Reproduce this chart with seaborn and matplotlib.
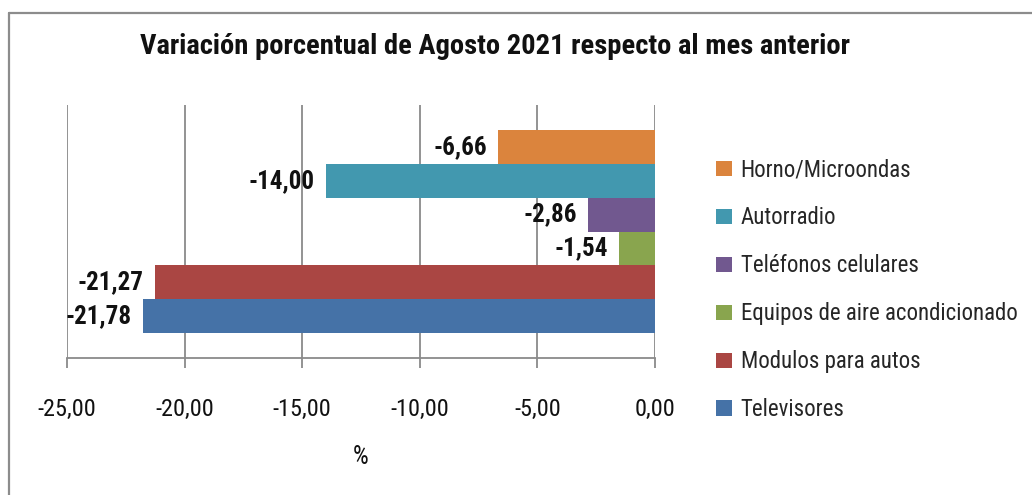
import matplotlib
matplotlib.use("Agg")
import matplotlib.pyplot as plt
import seaborn as sns
import pandas as pd
from matplotlib.lines import Line2D

categories = ["Horno/Microondas", "Autorradio", "Teléfonos celulares",
              "Equipos de aire acondicionado", "Modulos para autos", "Televisores"]
values = [-6.66, -14.00, -2.86, -1.54, -21.27, -21.78]
colors = ["#DB843D", "#4298AF", "#71588F", "#89A54E", "#AA4643", "#4572A7"]
xticks = [-25, -20, -15, -10, -5, 0]
title = "Variación porcentual de Agosto 2021 respecto al mes anterior"
xlabel = "%"

sns.set_theme(style="white")
fams = ["Roboto Condensed", "Liberation Sans Narrow", "Roboto", "DejaVu Sans"]
plt.rcParams["font.family"] = fams

W, H = 1032, 495
fig = plt.figure(figsize=(W / 100, H / 100), dpi=100)
ax = fig.add_axes([67 / W, 1 - 358 / H, (655 - 67) / W, (358 - 105) / H])

df = pd.DataFrame({"cat": categories, "val": values})
sns.barplot(data=df, y="cat", x="val", hue="cat", hue_order=categories,
            order=categories, palette=colors, width=1.0, linewidth=0,
            saturation=1, ax=ax, legend=True)

ax.set_xlim(-25, 0)
ax.set_ylim(5.5 + 0.735, -0.5 - 0.735)
ax.set_xticks(xticks)
ax.set_xticklabels([f"{t:.2f}".replace(".", ",") for t in xticks], fontsize=17.5, color="#111111")
ax.set_yticks([])
ax.set_ylabel("")
ax.set_xlabel(xlabel, fontsize=18, color="#111111")
ax.xaxis.set_label_coords(0.5, -0.39)
ax.xaxis.label.set_va("center")

gc = "#8a8a8a"
ax.grid(axis="x", color=gc, linewidth=1.3)
ax.set_axisbelow(True)
for s in ["left", "right", "top"]:
    ax.spines[s].set_visible(False)
ax.spines["bottom"].set_color(gc)
ax.spines["bottom"].set_linewidth(1.3)
ax.tick_params(axis="x", bottom=True, length=7, width=1.3, color=gc, pad=22)

for cont, v in zip(ax.containers, values):
    ax.bar_label(cont, labels=[f"{v:.2f}".replace(".", ",")], padding=8,
                 fontsize=18, fontweight="bold", color="#111111")

leg = ax.get_legend()
handles = leg.legend_handles
leg.remove()
fig.legend(handles, categories, loc="upper left", bbox_to_anchor=(716 / W, 1 - 158.5 / H),
           frameon=False, fontsize=16.5, labelspacing=1.09, handlelength=0.68,
           handleheight=0.68, handletextpad=0.4, borderpad=0, borderaxespad=0)

fig.text(0.48, 1 - 47 / H, title, ha="center", va="center", fontsize=20.5,
         fontweight="bold", color="#111111")

fig.add_artist(Line2D([9 / W, 9 / W], [0, 1 - 13 / H], color="#8c8c8c", lw=1.6))
fig.add_artist(Line2D([9 / W, 1], [1 - 13 / H, 1 - 13 / H], color="#8c8c8c", lw=1.6))

fig.savefig("out.png", dpi=100)
